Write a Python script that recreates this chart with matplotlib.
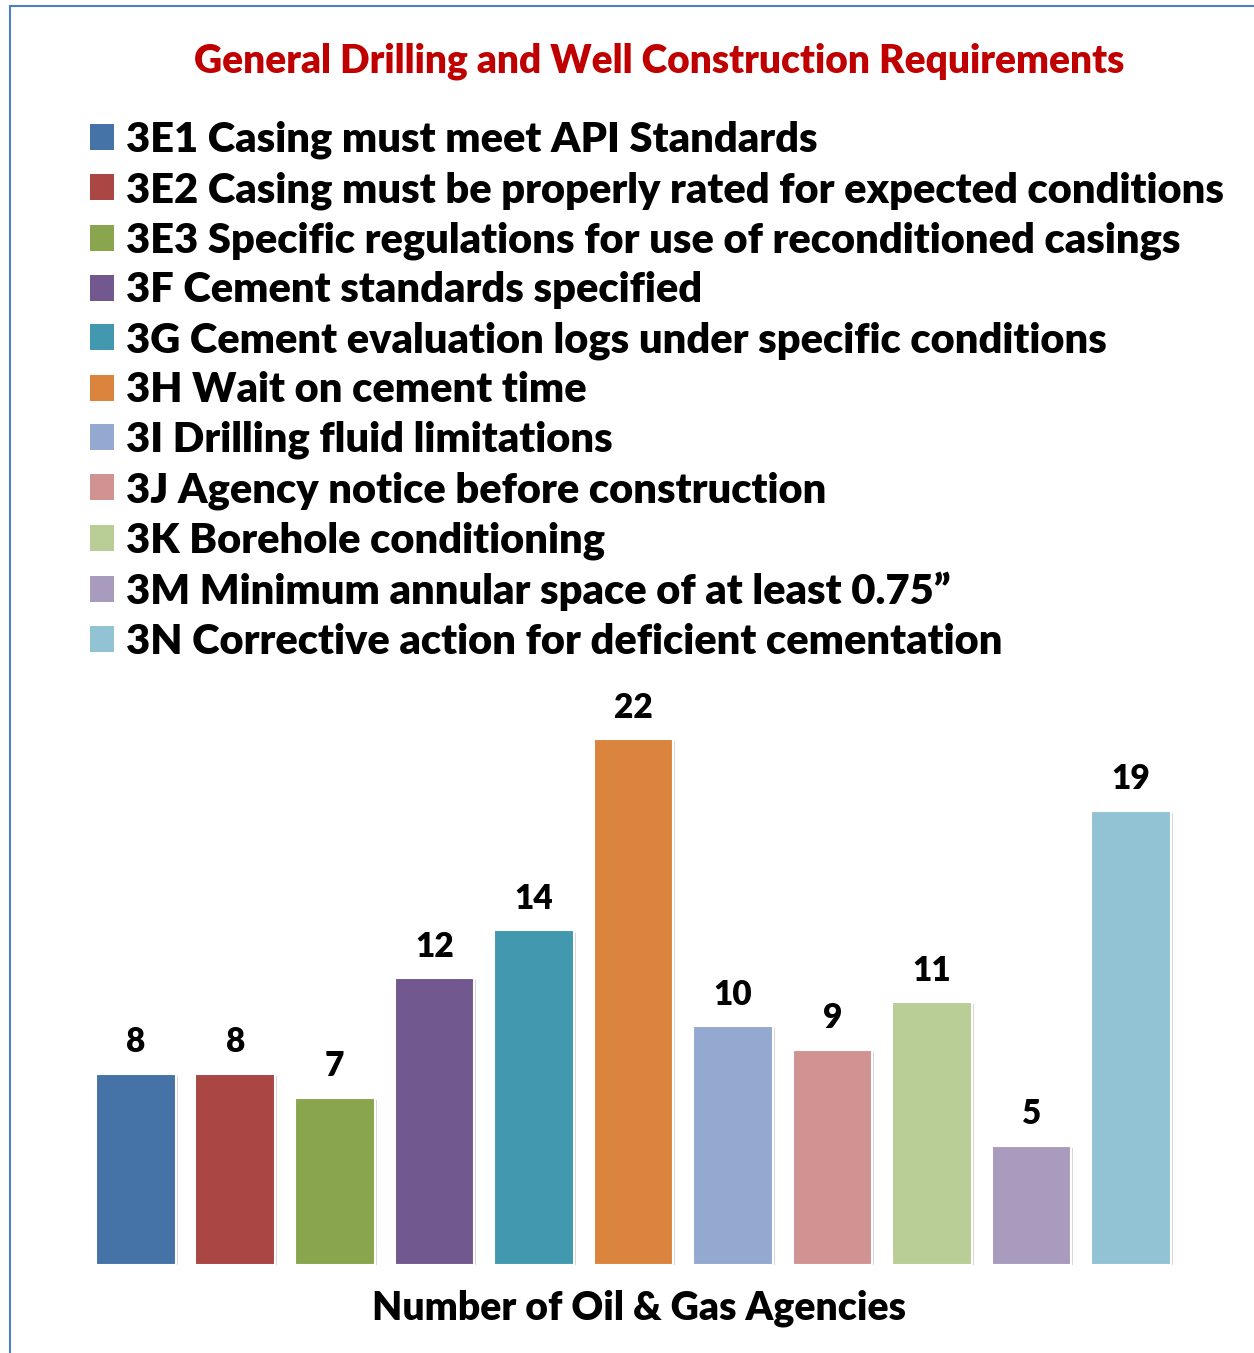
import numpy as np
import matplotlib
matplotlib.use('Agg')
import matplotlib.pyplot as plt
import matplotlib.patheffects as pe
from matplotlib.patches import Rectangle

# data
codes = ['3E1', '3E2', '3E3', '3F', '3G', '3H', '3I', '3J', '3K', '3M', '3N']
labels = ['3E1 Casing must meet API Standards',
          '3E2 Casing must be properly rated for expected conditions',
          '3E3 Specific regulations for use of reconditioned casings',
          '3F Cement standards specified',
          '3G Cement evaluation logs under specific conditions',
          '3H Wait on cement time',
          '3I Drilling fluid limitations',
          '3J Agency notice before construction',
          '3K Borehole conditioning',
          '3M Minimum annular space of at least 0.75\u201d',
          '3N Corrective action for deficient cementation']
counts = [8, 8, 7, 12, 14, 22, 10, 9, 11, 5, 19]
colours = ['#4572A7', '#AA4643', '#89A54E', '#71588F', '#4198AF', '#DB843D',
           '#93A9CF', '#D19392', '#B9CD96', '#A99BBD', '#92C3D4']

plt.rcParams['font.family'] = ['Lato', 'DejaVu Sans']
W = 'heavy'

fig = plt.figure(figsize=(12.54, 13.53), dpi=100)
ax = fig.add_axes([0.0686, 0.065, 0.873, 0.4324])

x = np.arange(len(counts))
bars = ax.bar(x, counts, width=0.8, color=colours, edgecolor='white', linewidth=1.5)
for b in bars:
    b.set_path_effects([pe.SimplePatchShadow(offset=(1.5, -1.5), shadow_rgbFace='#999999', alpha=0.4),
                        pe.Normal()])

for xi, v in zip(x, counts):
    ax.annotate(str(v), (xi, v), xytext=(0, 15.5), textcoords='offset points',
                ha='center', va='baseline', fontsize=24, fontweight=W, color='black')

ax.set_xlim(-0.5, len(counts) - 0.5)
ax.set_ylim(0, 24.48)
ax.axis('off')

# legend
handles = [Rectangle((0, 0), 1, 1, facecolor=c, edgecolor='none') for c in colours]
fig.legend(handles, labels, loc='upper left', bbox_to_anchor=(0.0718, 0.9106),
           frameon=False, labelspacing=0.28, handlelength=0.58,
           handleheight=0.58, handletextpad=0.29, borderpad=0, borderaxespad=0,
           prop={'weight': W, 'size': 30})

fig.text(0.5255, 1 - 61 / 1353, 'General Drilling and Well Construction Requirements',
         ha='center', va='center', fontsize=28.0, fontweight=W, color='#C00000')
fig.text(0.5096, 1 - 1308 / 1353, 'Number of Oil & Gas Agencies',
         ha='center', va='center', fontsize=28.2, fontweight=W, color='black')

# outer frame (only top and left visible in the crop)
fig.add_artist(Rectangle((10 / 1254, -0.1), 1.2, 1 - 6 / 1353 + 0.1,
                         transform=fig.transFigure, fill=False,
                         edgecolor='#4F81BD', linewidth=1.5))

fig.savefig('out.png', dpi=100)
